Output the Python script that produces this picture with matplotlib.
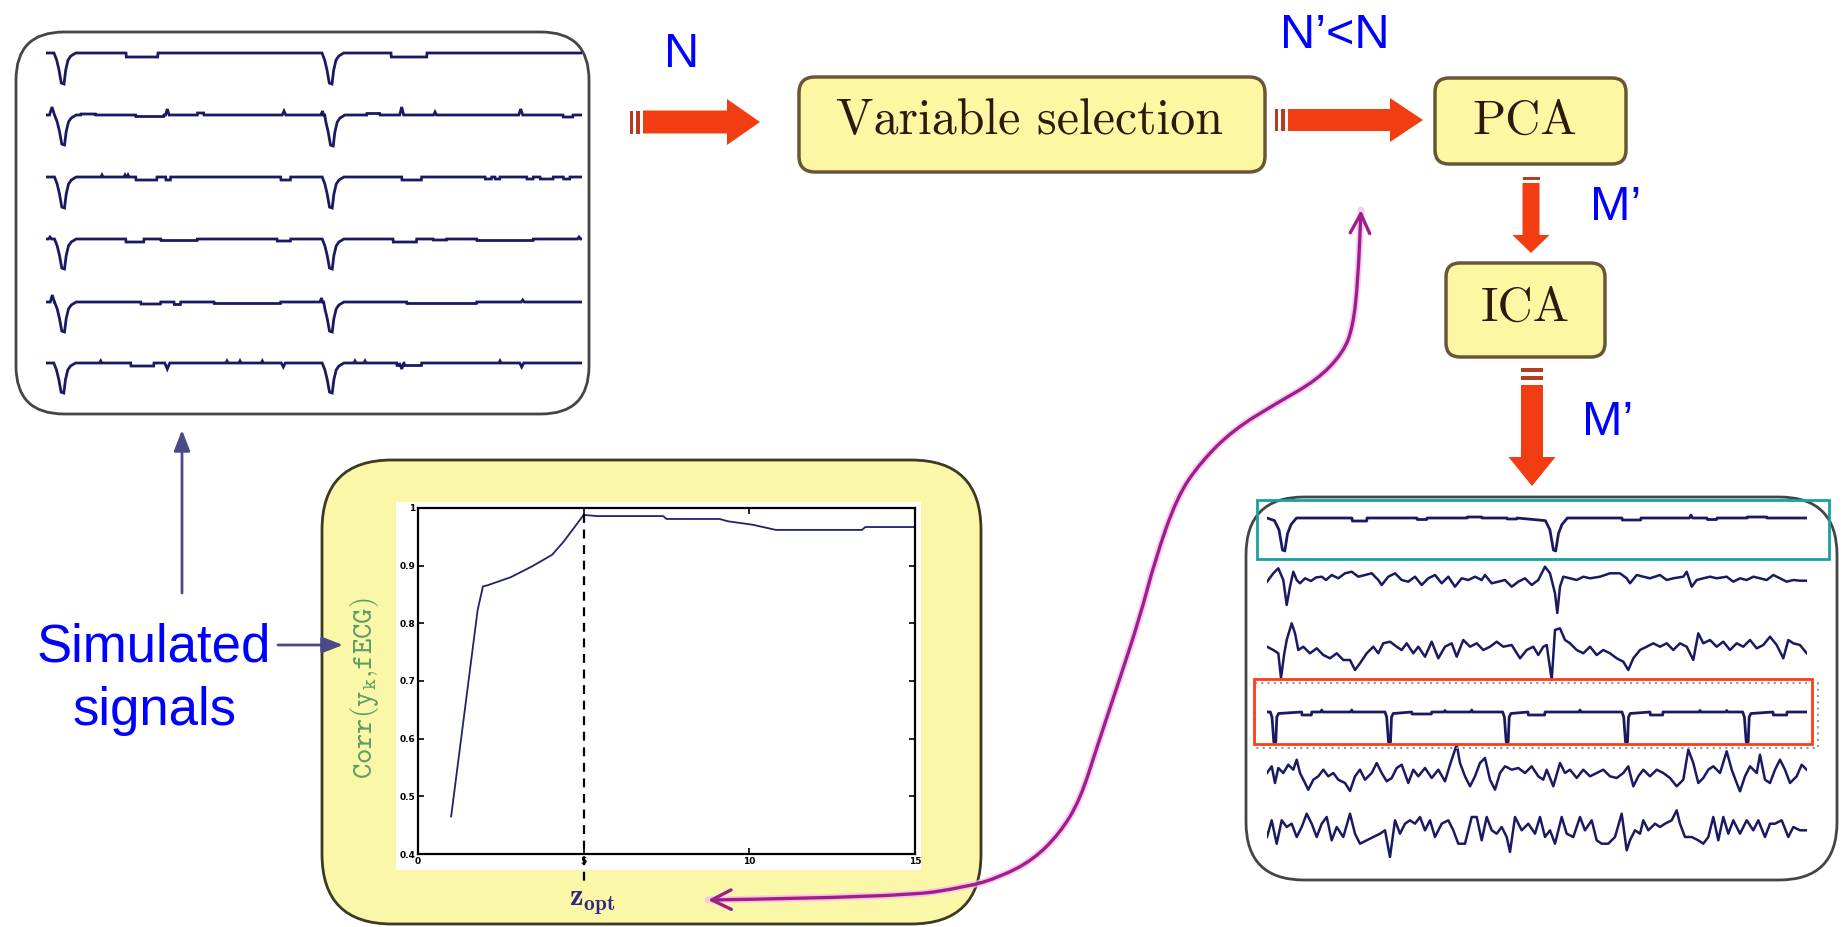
import numpy as np
import matplotlib.pyplot as plt
from matplotlib.patches import FancyBboxPatch, Rectangle, Polygon, FancyArrowPatch
from matplotlib.path import Path

plt.rcParams['mathtext.fontset'] = 'cm'

W, H = 1845, 927          # canvas in pixels (dpi 100)

# ------------------------------------------------------------------
# data
# ------------------------------------------------------------------

# correlation between extracted source and fECG vs number of components
corr_z = [1, 1.8, 1.96, 2.1, 2.8, 3.45, 4.05, 4.4, 5.0, 5.4, 7.4, 7.5,
          9.1, 9.35, 10.1, 10.8, 13.4, 13.5, 15]
corr_val = [0.465, 0.823, 0.864, 0.866, 0.88, 0.899, 0.919, 0.942, 0.988,
            0.986, 0.986, 0.981, 0.981, 0.977, 0.971, 0.962, 0.962, 0.967,
            0.967]
z_opt = 5
corr_yticks = [0.4, 0.5, 0.6, 0.7, 0.8, 0.9, 1.0]
corr_ytick_labels = ['0.4', '0.5', '0.6', '0.7', '0.8', '0.9', '1']
corr_xticks = [0, 5, 10, 15]
corr_xtick_labels = ['0', '5', '10', '15']

# simulated signals (top-left): QRS shape, positions, depths, small waves
qrs_dx = [-8.5, -5.8, -3.5, -1.2, 1.5, 3.2, 5.5, 8.2, 13.2]
qrs_dy = [0, -0.23, -0.55, -0.97, -1.0, -0.55, -0.23, -0.1, 0]
sim_spikes = [[16.5, 284.5], [17, 285.7], [17, 284.7],
              [17, 284.7], [17, 284.7], [16.3, 284.7]]
sim_depths = [[31, 31], [30, 31], [31, 31], [30, 30], [30, 30], [30, 30]]
sim_steps = [
    [(80, 112, -4), (345, 381, -4)],
    [(34.7, 49.7, 1), (89.7, 118, -1.5), (151.3, 158, 2), (320.7, 334, 1.5),
     (517, 527, -2)],
    [(89.7, 111, -3), (119.7, 124.7, -3), (234.7, 244.7, -3),
     (355.7, 375.7, -3), (439, 445.7, -2), (449, 454, -2), (480.7, 487.3, -2),
     (494, 507.3, -2), (517.3, 524, -2)],
    [(79.7, 98, -3), (114.7, 151.3, -1.5), (231, 244.7, -2),
     (347, 370.7, -3), (387, 400.7, -1), (430.7, 487.3, -1.5)],
    [(94.7, 114.7, -2), (128, 134.7, -2.5), (168, 234.7, -1.5),
     (360.7, 430.7, -1.5)],
    [(84.7, 108, -3), (350.7, 353.5, -2.5), (358, 375.7, -2.5)],
]
sim_peaks = [
    [],
    [(6, 2.5, 8), (121.3, 1.8, 6), (238, 1.8, 4), (276.7, 2, 4),
     (355.7, 2, 8), (389, 1.5, 3), (474.7, 2, 6)],
    [(56, 1, 2), (79, 1, 2), (82, 1, 2)],
    [(4, 1.5, 2), (533, 1.5, 2)],
    [(6.3, 2, 7), (275.7, 2, 4), (476.7, 1.5, 2)],
    [(54.7, 1, 2), (121.3, 2.5, -6), (181, 1, 2), (194, 1, 2), (216.3, 1, 2),
     (237.3, 2, -4), (309, 1, 2), (319, 1, 2), (355.7, 2.2, -6), (454, 1, 2),
     (475.7, 2, -4)],
]

# extracted sources (bottom-right)
src1_dx = [-9, -4.5, -1, 1.3, 4, 7.5, 13]
src1_dy = [-0.08, -0.36, -0.97, -1.0, -0.48, -0.2, 0]
src1_spikes = [16.5, 287.4]
src1_depths = [33, 33]
src1_steps = [(85, 100, -3), (150, 160, -1.5), (200, 215, 1), (240, 250, -1),
              (355, 374, -2), (440, 450, -1.5), (480, 500, 1)]
src1_peaks = [(424, 1.5, 3)]

src4_dx = [-4, -2.3, -0.5, 1.5, 2.5, 4.2]
src4_dy = [0, -0.17, -1.0, -1.0, -0.17, -0.05]
src4_spikes = [7.3, 122, 239.7, 359, 479.7]
src4_depths = [30, 30, 30, 30, 30]
src4_steps = [(34.7, 44.7, -3), (144.7, 164.7, -2), (261, 278, -3),
              (383, 396, -3), (506, 520, -3)]
src4_peaks = [(54.7, 1, 2), (84.7, 1, 2), (178, 1, 1.5), (204.7, 1, 2),
              (313, 1, 2), (433, 1, 1.5), (459.7, 1, 1.5)]

src2 = [(0, -1.7), (6.3, 6.7), (11.3, 11.7), (16.3, 0), (19.7, -25), (23, -6.7),
        (26.3, 8.3), (29.7, 0), (33, -3.3), (38, 1.7), (44, -1), (49, 2.5),
        (54.7, 3.3), (59, 0), (64.7, 5), (71.3, 1.7), (78, 6.7), (84.7, 8.3),
        (91.3, 3.3), (98, 5), (104.7, 6.7), (111.3, 0), (114.7, -5), (121.3, 3.3),
        (128, 6.7), (134.7, 0), (141.3, -1.7), (148, 3.3), (154.7, -5),
        (161.3, 1.7), (168, 5), (174.7, -3.3), (181.3, 3.3), (188, -6.7),
        (194.7, 1.7), (201.3, 0), (208, 3.3), (214.7, 0), (218, 5), (224.7, -3.3),
        (231.3, -1.7), (238, 0), (244.7, -6.7), (251.3, -1.7), (258, 1.7),
        (264.7, -5), (271.3, 0), (276.3, 10), (278, 13.3), (283, 6.7),
        (288, -13.3), (290.3, -33), (293, -6.7), (296.3, 3.3), (303, 1.7),
        (309.7, 0), (316.3, 3.3), (323, 1.7), (333, 3.3), (343, 6.7), (353, 6.7),
        (359.7, 1.7), (363, -3.3), (369.7, 5), (376.3, 3.3), (383, 1.7),
        (393, 5), (399.7, 0), (406.3, 1.7), (416.3, 3.3), (419.7, 8.3),
        (424.7, -6.7), (429.7, 0), (436.3, 1.7), (443, 3.3), (449.7, 1.7),
        (459.7, 3.3), (466.3, -1.7), (473, 1.7), (479.7, 0), (486.3, 3.3),
        (493, 1.7), (499.7, 0), (506.3, 5), (513, 1.7), (519.7, -1.7),
        (526.3, 0), (533, -0.7), (539.7, -0.7)]

src3 = [(0, 3.3), (6.3, 0), (11.3, -3.3), (14, -28), (17.3, -3.3), (19.7, 10),
        (24.7, 26.7), (28, 16.7), (31.3, 0), (36.3, 3.3), (43, -3.3), (49.7, 1.7),
        (56.3, -5), (63, -8.3), (69.7, -3.3), (76.3, -10), (83, -10), (88, -20),
        (93, -13.3), (99.7, -3.3), (106.3, 3.3), (111.3, -3.3), (116.3, 6.7),
        (123, 8.3), (129.7, 3.3), (134.7, 0), (139.7, 6.7), (146.3, -3.3),
        (151.3, 3.3), (158, -6.7), (164.7, 8.3), (171.3, -8.3), (178, 3.3),
        (184.7, 6.7), (189.7, -6.7), (196.3, 10), (203, 3.3), (209.7, 6.7),
        (216.3, 0), (223, 3.3), (229.7, 8.3), (236.3, 3.3), (244.7, 5),
        (253, -8.3), (259.7, 0), (266.3, 3.3), (271.3, -5), (276.3, 3.3),
        (279.7, 5), (284.7, -30), (288, 20), (293, 21.7), (298, 10), (303, 6.7),
        (309.7, 0), (316.3, -3.3), (323, 3.3), (329.7, -5), (336.3, 0),
        (343, -3.3), (349.7, -8.3), (356.3, -11.7), (361.3, -20), (366.3, -8.3),
        (373, 0), (379.7, 3.3), (386.3, 6.7), (393, 3.3), (399.7, 6.7),
        (406.3, 0), (413, 6.7), (419.7, 3.3), (426.3, -10), (431.3, 16.7),
        (436.3, 6.7), (443, 10), (449.7, 3.3), (456.3, 8.3), (463, 0),
        (469.7, 6.7), (476.3, 3.3), (483, 10), (489.7, 1.7), (496.3, 5),
        (503, 13.3), (509.7, 5), (516.3, -8.3), (521.3, 10), (526.3, 6.7),
        (533, 5), (539.7, -3.3)]

src5 = [(0, 0), (4.7, 6.7), (8, -10), (11.3, 5), (16.3, 0), (21.3, 8.3),
        (26.3, 3.3), (29.7, 13.3), (33, 0), (38, -10), (41.3, -16.7),
        (46.3, -6.7), (51.3, -3.3), (56.3, 3.3), (61.3, -3.3), (66.3, 0),
        (71.3, -6.7), (78, -10), (83, -18), (88, -3.3), (93, 3.3), (98, -6.7),
        (104.7, 0), (109.7, 10), (114.7, 0), (119.7, -8.3), (124.7, -5),
        (129.7, 5), (134.7, 8.3), (141.3, -10), (146.3, 3.3), (151.3, -3.3),
        (158, 5), (164.7, -5), (171.3, 3.3), (178, -8.3), (183, 8.3),
        (189.7, 28.3), (193, 10), (198, -3.3), (203, -13.3), (208, -3.3),
        (213, 10), (218, 15), (223, -6.7), (228, -16.7), (233, 0), (238, 6.7),
        (244.7, 3.3), (251.3, 5), (258, 0), (264.7, 6.7), (271.3, -3.3),
        (276.3, -6.7), (279.7, 3.3), (286.3, -13.3), (293, 10), (298, 0),
        (303, 3.3), (309.7, -5), (316.3, 3.3), (323, -3.3), (329.7, 0),
        (336.3, 3.3), (343, -3.3), (349.7, -5), (356.3, 0), (361.3, 6.7),
        (366.3, -13.3), (371.3, -3.3), (376.3, 3.3), (383, -3.3), (389.7, 3.3),
        (396.3, 0), (403, -5), (409.7, -13.3), (416.3, -6.7), (421.3, 23.3),
        (426.3, 10), (431.3, -10), (436.3, -5), (441.3, 3.3), (446.3, 6.7),
        (453, 0), (459.7, 21.7), (464.7, 3.3), (469.7, -10), (473, -18.3),
        (478, -3.3), (483, 6.7), (489.7, 0), (493, 18.3), (498, -6.7),
        (503, -10), (508, 3.3), (513, 13.3), (518, 3.3), (523, -10),
        (529.7, -3.3), (534.7, 8.3), (539.7, 3.3)]

src6 = [(0, -10), (4.7, 6.7), (9.7, -16.7), (14.7, 6.7), (19.7, 0), (24.7, 3.3),
        (29.7, -10), (34.7, 0), (39.7, 13.3), (44.7, 3.3), (49.7, -10),
        (54.7, 3.3), (59.7, 10), (64.7, -13.3), (69.7, 0), (76.3, -10),
        (83, 13.3), (88, -6.7), (93, -16.7), (99.7, -13.3), (106.3, -10),
        (113, -6.7), (118, -3.3), (123, -30), (128, 6.7), (133, -6.7), (138, 3.3),
        (143, 6.7), (148, 3.3), (153, 10), (158, -3.3), (163, 6.7), (168, -10),
        (174.7, 3.3), (181.3, 6.7), (186.3, -3.3), (191.3, -16.7), (198, -16.7),
        (204.7, 10), (209.7, 10), (214.7, -13.3), (219.7, 10), (224.7, -3.3),
        (229.7, -6.7), (234.7, 0), (239.7, -10), (243, -25), (248, 10),
        (254.7, -3.3), (261.3, 3.3), (268, -6.7), (273, 10), (278, -10),
        (283, -3.3), (288, -16.7), (294.7, 10), (299.7, -6.7), (306.3, -10),
        (313, 10), (318, -3.3), (324.7, 6.7), (329.7, -13.3), (334.7, -16.7),
        (341.3, -16.7), (348, -10), (354.7, 13.3), (359.7, -23.3), (363, -13.3),
        (368, -3.3), (373, -6.7), (376.3, 6.7), (381.3, -3.3), (388, 3.3),
        (393, 0), (398, 3.3), (404.7, 6.7), (409.7, 16.7), (413, 3.3),
        (418, -10), (424.7, -10), (431.3, -13.3), (436.3, -16.7), (441.3, -10),
        (446.3, 10), (451.3, -13.3), (456.3, 10), (461.3, -6.7), (466.3, 6.7),
        (473, -6.7), (479.7, 6.7), (486.3, -3.3), (491.3, 6.7), (498, -10),
        (503, 3.3), (508, 3.3), (514.7, 6.7), (521.3, -10), (526.3, 0),
        (533, -3.3), (539.7, -3.3)]

# ------------------------------------------------------------------
# layout (pixels, origin top-left)
# ------------------------------------------------------------------
SIM_BASE = [53, 115, 177, 239, 302, 363]
SRC_BASE = [518, 580, 650, 712, 773, 827]
BLUE = '#0000ff'
RED = '#f23c12'
STRIPE = '#b83a20'
BOX_FILL = '#fdf6a3'
BOX_EDGE = '#6a5535'
PURPLE = '#a01e8c'
TRACE = '#1a1a62'


def px_rect(x0, y0, x1, y1):
    return [x0 / W, 1 - y1 / H, (x1 - x0) / W, (y1 - y0) / H]


def build_trace(length, spikes, depths, sdx, sdy, steps=(), peaks=()):
    pts = [(0.0, 0.0), (float(length), 0.0)]
    for xc, d in zip(spikes, depths):
        pts += [(xc + dx, d * dy) for dx, dy in zip(sdx, sdy)]
    for x0, x1, lev in steps:
        pts += [(x0, 0.0), (x0 + 0.3, lev), (x1 - 0.3, lev), (x1, 0.0)]
    for xc, hw, amp in peaks:
        pts += [(xc - hw, 0.0), (xc, amp), (xc + hw, 0.0)]
    pts.sort()
    return np.array(pts).T


def rbox(ax, x0, y0, x1, y1, r, fc, ec, lw, z=1):
    ax.add_patch(FancyBboxPatch((x0, y0), x1 - x0, y1 - y0,
                                boxstyle=f"round,pad=0,rounding_size={r}",
                                fc=fc, ec=ec, lw=lw, zorder=z))


def arrow_right(ax, stripes, xb, xh, xt, yc, bh, hh):
    for s0, s1 in stripes:
        ax.add_patch(Rectangle((s0, yc - bh / 2), s1 - s0, bh, fc=STRIPE,
                               ec='none', zorder=3))
    ax.add_patch(Polygon([(xb, yc - bh / 2), (xh, yc - bh / 2), (xh, yc - hh / 2),
                          (xt, yc), (xh, yc + hh / 2), (xh, yc + bh / 2),
                          (xb, yc + bh / 2)], closed=True, fc=RED, ec='none',
                         zorder=3))


def arrow_down(ax, stripes, yb, yh, yt, xc, bw, hw):
    for s0, s1 in stripes:
        ax.add_patch(Rectangle((xc - bw / 2, s0), bw, s1 - s0, fc=STRIPE,
                               ec='none', zorder=3))
    ax.add_patch(Polygon([(xc - bw / 2, yb), (xc - bw / 2, yh), (xc - hw / 2, yh),
                          (xc, yt), (xc + hw / 2, yh), (xc + bw / 2, yh),
                          (xc + bw / 2, yb)], closed=True, fc=RED, ec='none',
                         zorder=3))


fig = plt.figure(figsize=(W / 100, H / 100), dpi=100)
fig.patch.set_facecolor('white')

# diagram layer
ax = fig.add_axes([0, 0, 1, 1], zorder=0)
ax.set_xlim(0, W)
ax.set_ylim(H, 0)
ax.axis('off')

rbox(ax, 16, 32, 589, 414, 48, 'white', '#454545', 2.0)          # simulated
rbox(ax, 1246, 497, 1837, 880, 58, 'white', '#454545', 2.0)      # sources
rbox(ax, 322, 460, 981, 924, 70, '#fbf7a8', '#3c3a22', 2.0)      # corr panel
ax.add_patch(Rectangle((396, 502), 525, 368, fc='white', ec='none', zorder=1.5))

rbox(ax, 799, 77, 1265, 172, 16, BOX_FILL, BOX_EDGE, 2.5, z=2)
rbox(ax, 1435, 78, 1626, 164, 14, BOX_FILL, BOX_EDGE, 2.5, z=2)
rbox(ax, 1446, 263, 1605, 357, 14, BOX_FILL, BOX_EDGE, 2.5, z=2)
box_font = dict(family='cmr10', color='#2e1a0c', ha='center',
                va='baseline', zorder=4)
ax.text(1030, 134, 'Variable selection', fontsize=36, **box_font)
ax.text(1525, 134, 'PCA', fontsize=35, **box_font)
ax.text(1525, 321, 'ICA', fontsize=35, **box_font)

arrow_right(ax, [(630, 633), (636, 640)], 643, 727, 760, 122, 23, 46)
arrow_right(ax, [(1275, 1278), (1281, 1285)], 1288, 1390, 1423, 120, 22, 44)
arrow_down(ax, [(177, 180)], 183, 235, 253, 1531, 17, 37)
arrow_down(ax, [(368, 372), (376, 380)], 385, 457, 486, 1532, 22, 47)

lab = dict(family='Liberation Sans', color=BLUE, ha='center', va='baseline')
ax.text(682, 67, 'N', fontsize=35, **lab)
ax.text(1335, 48, 'N\u2019<N', fontsize=35, **lab)
ax.text(1616, 220, 'M\u2019', fontsize=35, **lab)
ax.text(1608, 435, 'M\u2019', fontsize=35, **lab)
ax.text(154, 662, 'Simulated', fontsize=38, **lab)
ax.text(154, 725, 'signals', fontsize=38, **lab)

thin = dict(arrowstyle='-|>,head_length=0.9,head_width=0.35', color='#4a4a88',
            lw=2, shrinkA=0, shrinkB=0, mutation_scale=14)
ax.annotate('', xy=(182, 430), xytext=(182, 593), arrowprops=thin)
ax.annotate('', xy=(343, 645), xytext=(278, 645), arrowprops=thin)

ax.text(592, 902, r'$\mathbf{z}_{\mathbf{opt}}$', fontsize=22, color='#302880',
        ha='center', va='center', zorder=4)

# simulated signals
ax_sim = fig.add_axes(px_rect(46, 32, 582, 410), zorder=1)
ax_sim.set_xlim(0, 536)
ax_sim.set_ylim(410, 32)
ax_sim.axis('off')
for i, base in enumerate(SIM_BASE):
    tx, ty = build_trace(536, sim_spikes[i], sim_depths[i], qrs_dx, qrs_dy,
                         sim_steps[i], sim_peaks[i])
    ax_sim.plot(tx, base - ty, color=TRACE, lw=2.0, solid_joinstyle='miter')

# extracted sources
ax_src = fig.add_axes(px_rect(1267, 497, 1807, 880), zorder=1)
ax_src.set_xlim(0, 540)
ax_src.set_ylim(880, 497)
ax_src.axis('off')
tx, ty = build_trace(540, src1_spikes, src1_depths, src1_dx, src1_dy,
                     src1_steps, src1_peaks)
ax_src.plot(tx, SRC_BASE[0] - ty, color=TRACE, lw=2.0)
tx, ty = build_trace(540, src4_spikes, src4_depths, src4_dx, src4_dy,
                     src4_steps, src4_peaks)
ax_src.plot(tx, SRC_BASE[3] - ty, color=TRACE, lw=2.0)
for base, src in zip([SRC_BASE[1], SRC_BASE[2], SRC_BASE[4], SRC_BASE[5]],
                     [src2, src3, src5, src6]):
    sx, sy = np.array(src).T
    ax_src.plot(sx, base - sy, color=TRACE, lw=1.8)

# correlation plot
ax_c = fig.add_axes(px_rect(418, 508, 915, 854), zorder=1)
ax_c.plot(corr_z, corr_val, color='#22226e', lw=1.3)
ax_c.plot([z_opt, z_opt], [0.99, 0.35], color='black', lw=1.6,
          dashes=(4, 3), clip_on=False)
ax_c.set_xlim(0, 15)
ax_c.set_ylim(0.4, 1.0)
ax_c.set_xticks(corr_xticks, corr_xtick_labels)
ax_c.set_yticks(corr_yticks, corr_ytick_labels)
ax_c.tick_params(direction='in', top=True, right=True, length=4, width=1.2,
                 labelsize=6.5, pad=2)
for t in ax_c.get_xticklabels() + ax_c.get_yticklabels():
    t.set_fontweight('bold')
for s in ax_c.spines.values():
    s.set_linewidth(1.6)
ax_c.set_ylabel(r'$\mathtt{Corr(y_{k}{,}fECG)}$', fontsize=21, color='#5c9e62')
ax_c.yaxis.set_label_coords(-0.075, 0.48)

# top layer: feedback curve and highlight frames
ax_t = fig.add_axes([0, 0, 1, 1], zorder=2)
ax_t.set_xlim(0, W)
ax_t.set_ylim(H, 0)
ax_t.axis('off')
ax_t.patch.set_alpha(0)

ax_t.add_patch(Rectangle((1257, 500), 572, 59, fc='none', ec='#1aa0a0', lw=2))
ax_t.add_patch(Rectangle((1255, 683), 563, 65, fc='none', ec='#9a9a9a', lw=1.5,
                         ls=(0, (1, 2))))
ax_t.add_patch(Rectangle((1253.5, 679), 558.5, 65, fc='none', ec='#ff3c14', lw=2))

ctrl = np.array([(708, 900), (900, 897), (967, 887), (1000, 877), (1033, 860),
                 (1060, 833), (1080, 800), (1097, 747), (1117, 687), (1140, 617),
                 (1155, 560), (1177, 497), (1200, 463), (1233, 430), (1277, 403),
                 (1317, 380), (1343, 353), (1353, 327), (1358, 280), (1361, 210)])
verts = [tuple(ctrl[0])]
codes = [Path.MOVETO]
for i in range(1, len(ctrl) - 1):
    mid = (ctrl[i] + ctrl[i + 1]) / 2
    verts += [tuple(ctrl[i]), tuple(mid)]
    codes += [Path.CURVE3, Path.CURVE3]
verts.append(tuple(ctrl[-1]))
codes.append(Path.LINETO)
curve = Path(verts, codes)
ax_t.add_patch(FancyArrowPatch(path=curve, arrowstyle='-', color='#f4b8ea',
                               lw=5, alpha=0.7, shrinkA=0, shrinkB=0))
ax_t.add_patch(FancyArrowPatch(path=curve,
                               arrowstyle='<->,head_length=1.4,head_width=0.7',
                               mutation_scale=10, color=PURPLE, lw=2.4,
                               shrinkA=0, shrinkB=0))

fig.savefig('out.png', dpi=100, facecolor='white')
